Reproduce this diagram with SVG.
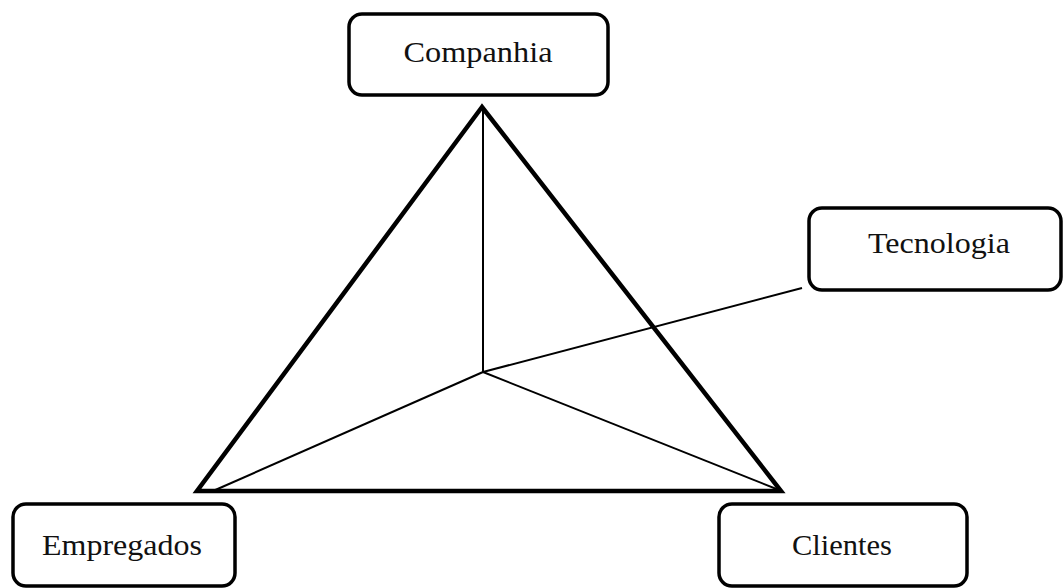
<svg xmlns="http://www.w3.org/2000/svg" width="1063" height="588" viewBox="0 0 1063 588">
<style>
.box{fill:#fff;stroke:#000;stroke-width:3.5}
.lbl{font-family:"Liberation Serif","Times New Roman",serif;font-size:30px;fill:#111;text-anchor:middle}
.thin{stroke:#000;stroke-width:2;fill:none}
.thick{stroke:#000;stroke-width:4.5;fill:none;stroke-linejoin:miter}
</style>
<rect width="1063" height="588" fill="#fff"/>
<g id="connectors">
<polygon class="thick" points="482,107 197,491 781,491"/>
<line class="thin" x1="483" y1="372" x2="483" y2="109"/>
<line class="thin" x1="483" y1="372" x2="213" y2="491"/>
<line class="thin" x1="483" y1="372" x2="779" y2="490"/>
<line class="thin" x1="483" y1="372" x2="802" y2="288"/>
</g>
<g id="companhia">
<rect class="box" x="349" y="14" width="259" height="81" rx="13"/>
<text class="lbl" x="478" y="62" textLength="149" lengthAdjust="spacingAndGlyphs">Companhia</text>
</g>
<g id="tecnologia">
<rect class="box" x="809" y="208" width="252" height="82" rx="13"/>
<text class="lbl" x="939" y="253" textLength="142" lengthAdjust="spacingAndGlyphs">Tecnologia</text>
</g>
<g id="empregados">
<rect class="box" x="13" y="504" width="222" height="82" rx="13"/>
<text class="lbl" x="122" y="555" textLength="160" lengthAdjust="spacingAndGlyphs">Empregados</text>
</g>
<g id="clientes">
<rect class="box" x="719" y="504" width="248" height="82" rx="13"/>
<text class="lbl" x="842" y="555" textLength="100" lengthAdjust="spacingAndGlyphs">Clientes</text>
</g>
</svg>
